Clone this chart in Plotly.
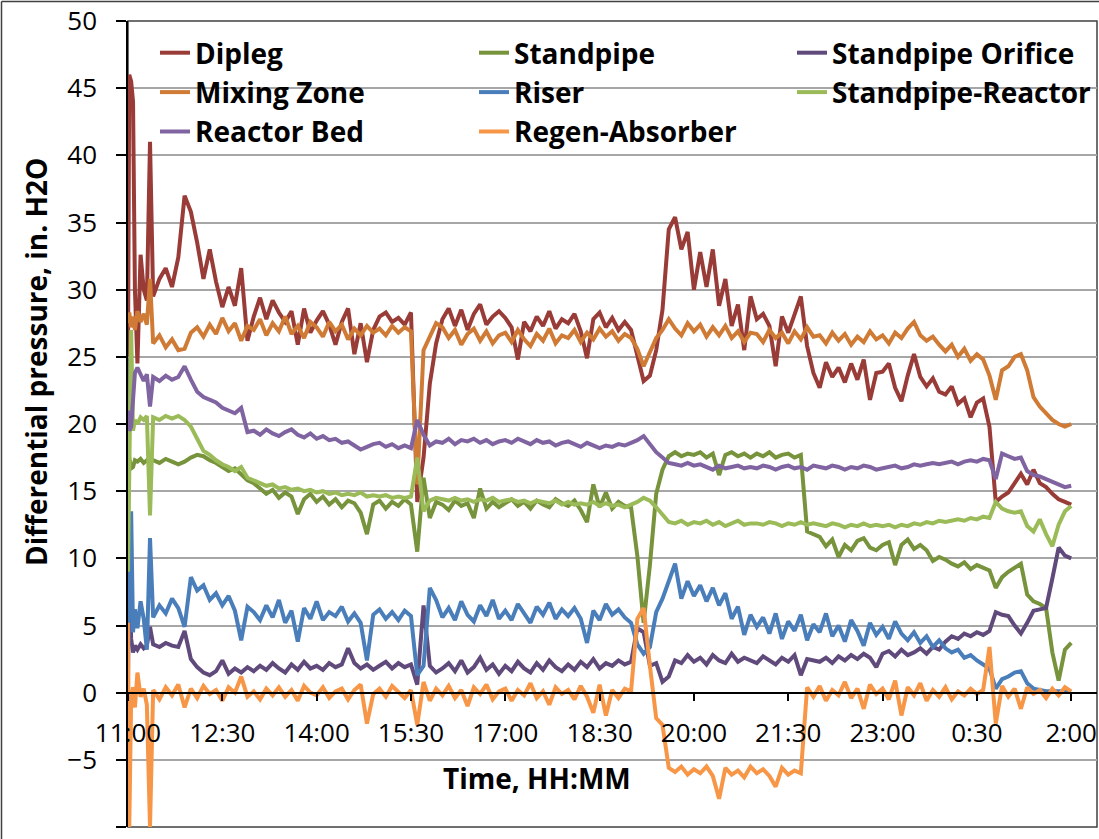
import plotly.graph_objects as go

# time axis: hours after 11:00 (denser at the very start, then every 6 minutes)
hours = [0, 0.02, 0.05, 0.08, 0.11, 0.15, 0.2, 0.25, 0.3, 0.35] + [round(0.4 + 0.1 * k, 2) for k in range(147)]

tick_vals = [0, 1.5, 3, 4.5, 6, 7.5, 9, 10.5, 12, 13.5, 15]
tick_text = ["11:00", "12:30", "14:00", "15:30", "17:00", "18:30", "20:00", "21:30", "23:00", "0:30", "2:00"]

dipleg = [25.0, 46.0, 45.5, 44.0, 30.0, 24.5, 32.6, 30.0, 29.2, 41.0,
          29.5, 30.8, 31.6, 30.2, 32.4, 37.0,
          35.8, 33.5, 30.8, 33.0, 30.6, 28.7, 30.2, 28.8, 31.6, 26.2,
          28.0, 29.4, 27.8, 29.2, 28.3, 27.6, 28.4, 25.9, 28.6, 26.8,
          27.7, 28.4, 27.4, 25.9, 27.6, 28.6, 25.2, 27.5, 24.6, 27.0,
          28.0, 28.3, 27.6, 27.9, 27.4, 28.3, 14.2, 17.5, 23.0, 26.0,
          27.8, 28.6, 27.3, 28.5, 27.0, 28.2, 28.9, 27.4, 28.0, 28.4,
          27.9, 27.2, 24.8, 27.6, 26.9, 28.0, 27.3, 28.4, 27.1, 27.8,
          27.5, 28.2, 26.9, 24.9, 27.8, 28.3, 27.2, 27.9, 27.0, 27.6,
          27.0, 25.0, 23.2, 23.6, 25.5, 28.5, 34.5, 35.4, 33.0, 34.3,
          30.0, 32.8, 30.2, 33.0, 28.8, 30.8, 27.3, 28.9, 25.5, 29.5,
          27.8, 28.2, 27.3, 24.3, 28.0, 26.8, 28.2, 29.5, 25.8, 23.8,
          22.7, 24.6, 23.5, 24.2, 23.1, 24.5, 23.3, 24.8, 21.8, 23.8,
          23.9, 24.5, 22.7, 21.7, 23.6, 25.2, 23.5, 22.8, 23.4, 22.4,
          22.2, 22.8, 21.5, 21.9, 20.5, 21.6, 21.9, 19.8, 14.2, 14.6,
          14.9, 15.6, 16.3, 15.5, 16.6, 15.6, 15.3, 14.8, 14.4, 14.2,
          14.0]

standpipe = [18.0, 17.5, 16.7, 16.8, 17.3, 17.2, 17.4, 17.1, 17.3, 17.2,
             17.3, 17.1, 17.4, 17.2, 17.0, 17.2,
             17.5, 17.7, 17.6, 17.3, 17.1, 16.8, 16.5, 16.7, 16.2, 15.8,
             15.6, 15.2, 14.8, 15.1, 14.5, 14.9, 14.6, 13.3, 14.4, 14.8,
             14.2, 14.6, 14.0, 14.4, 13.8, 14.3, 14.1, 13.4, 11.8, 14.0,
             14.3, 13.7, 14.2, 13.9, 14.4, 14.0, 10.5, 16.0, 13.0, 14.2,
             14.0, 13.6, 14.3, 13.9, 14.1, 13.0, 15.2, 13.7, 14.2, 13.8,
             14.1, 14.4, 13.9, 14.2, 13.7, 14.3, 14.0, 13.8, 14.4, 14.1,
             13.9, 14.3, 13.6, 12.7, 15.5, 13.8, 14.9, 13.7, 14.2, 13.9,
             13.8, 10.2, 5.2, 9.5, 14.8, 16.6, 17.6, 17.9, 17.6, 17.8,
             17.7, 17.9, 17.5, 17.8, 16.2, 17.7, 17.9, 17.6, 17.8, 17.5,
             17.8, 17.6, 17.9, 17.5, 17.7, 17.8, 17.5, 17.7, 12.0, 11.8,
             11.6, 10.9, 11.4, 10.1, 11.0, 10.6, 11.3, 11.5, 10.8, 10.6,
             11.0, 11.2, 9.5, 11.0, 11.4, 10.7, 11.0, 10.6, 9.8, 10.1,
             9.9, 9.6, 9.4, 9.7, 9.2, 9.5, 9.3, 9.1, 7.8, 8.6,
             9.0, 9.3, 9.6, 7.3, 6.8, 6.6, 6.3, 3.0, 0.9, 3.2,
             3.7]

standpipe_orifice = [8.2, 9.0, 4.0, 3.0, 3.5, 3.2, 3.6, 3.3, 3.5, 4.9,
                     3.6, 3.4, 3.7, 3.5, 3.4, 4.6,
                     2.5, 1.9, 1.5, 1.3, 1.6, 2.4, 1.4, 1.8, 1.5, 1.9,
                     1.6, 2.0, 1.7, 2.2, 1.8, 1.5, 2.1, 1.7, 2.3, 1.8,
                     2.0, 1.7, 2.2, 1.9, 2.1, 3.3, 2.2, 1.8, 2.1, 1.7,
                     2.0, 2.3, 1.8, 2.2, 1.9, 2.1, 0.6, 6.5, 2.0, 1.5,
                     1.8, 2.2, 1.6, 2.4, 1.5, 1.9, 2.6, 1.7, 2.1, 1.4,
                     2.0, 1.6, 2.3, 1.8, 1.5, 2.2, 1.7, 2.4, 1.9, 1.6,
                     2.1, 1.7, 2.3, 1.9, 2.5, 1.8, 2.2, 2.0, 2.4, 2.1,
                     2.3, 4.8, 4.5, 2.0, 2.2, 0.8, 1.2, 2.4, 2.2, 2.8,
                     2.3, 2.6, 2.1, 2.8, 2.4, 2.2, 2.9, 2.3, 2.6, 2.4,
                     2.2, 2.7, 2.4, 2.1, 2.6, 2.3, 2.8, 1.3, 2.5, 2.4,
                     2.3, 2.6, 2.2, 2.7, 2.4, 2.8, 2.5, 2.9, 2.6, 1.9,
                     2.9, 3.1, 2.7, 3.2, 2.8, 3.0, 3.3, 2.9, 3.4, 3.2,
                     3.8, 4.2, 4.0, 4.4, 4.2, 4.5, 4.3, 4.6, 6.0, 5.8,
                     5.7, 5.0, 4.4, 5.2, 6.1, 6.2, 6.3, 8.5, 10.8, 10.2,
                     10.0]

mixing_zone = [27.5, 28.3, 27.2, 28.0, 27.0, 28.4, 27.6, 28.2, 27.4, 30.8,
               26.0, 26.6, 25.7, 26.3, 25.5, 25.6,
               26.8, 27.2, 26.5, 27.4, 26.7, 27.9, 26.9, 27.5, 26.2, 27.3,
               27.0, 27.8, 26.6, 27.5, 26.9, 28.0, 26.7, 27.3, 26.4, 27.6,
               27.2, 26.5, 27.6, 26.9, 27.4, 26.3, 27.1, 26.6, 27.3, 26.8,
               27.1, 26.6, 27.3, 26.8, 27.2, 26.9, 15.5, 25.5, 26.5, 27.5,
               27.2, 26.4, 27.0, 25.9, 26.7, 27.1, 26.2, 26.9, 26.0, 26.6,
               26.8, 26.1, 27.0, 26.3, 25.8, 26.7, 26.2, 27.1, 26.0, 26.6,
               26.4, 27.0, 26.1, 26.8, 26.3, 27.1, 26.5, 26.9, 26.2, 26.7,
               26.4, 25.6, 24.3, 25.4, 26.4, 27.0, 27.8, 27.1, 26.6, 27.5,
               26.9, 27.4, 26.5, 27.2, 26.6, 27.3, 26.4, 26.9, 26.1, 26.8,
               26.7, 26.1, 27.0, 26.4, 26.8, 26.0, 26.9, 26.3, 27.2, 26.5,
               26.6, 26.0, 26.8, 26.2, 26.7, 25.9, 26.5, 26.1, 26.9, 26.3,
               26.6, 26.0, 26.8, 26.4, 27.1, 27.6, 26.6, 26.2, 26.5, 25.9,
               25.4, 25.9, 25.0, 25.6, 24.7, 25.2, 24.8, 23.6, 21.8, 24.0,
               24.3, 25.0, 25.2, 24.0, 22.0, 21.3, 20.8, 20.3, 20.0, 19.8,
               20.0]

riser = [1.0, 8.5, 13.5, 4.5, 6.2, 4.8, 6.8, 5.5, 3.2, 11.5,
         5.6, 6.5, 5.9, 7.0, 6.3, 4.9,
         8.6, 7.6, 8.0, 6.9, 7.4, 6.5, 7.2, 6.1, 3.9, 6.4,
         6.0, 5.4, 6.5, 5.6, 6.9, 5.2, 6.1, 3.8, 6.3, 5.5,
         6.8, 5.4, 6.0, 5.7, 6.4, 5.3, 5.9, 5.2, 2.4, 5.8,
         6.2, 5.5, 6.0, 5.4, 6.1, 5.7, 1.3, 2.0, 7.8, 6.9,
         5.6, 6.3, 5.4, 6.8, 5.8, 5.3, 6.5, 5.7, 6.9, 5.5,
         6.1, 5.4, 6.6, 5.9, 5.2, 6.4, 5.8, 6.7, 5.5, 6.2,
         5.7, 6.3, 5.5, 3.7, 6.1, 5.4, 6.6, 5.8, 6.2, 5.6,
         5.2, 3.6, 2.9, 3.4, 6.0, 7.0, 8.4, 9.6, 7.0, 8.3,
         7.2, 8.0, 6.8, 7.8, 6.5, 7.4, 5.5, 6.4, 4.3, 5.8,
         4.9, 5.6, 4.4, 5.9, 4.0, 5.3, 4.6, 5.8, 3.9, 5.1,
         4.5, 5.9, 4.2, 5.0, 3.8, 5.4, 4.6, 3.5, 5.2, 4.3,
         4.9, 4.0, 5.3, 4.4, 3.9, 4.5, 3.7, 4.2, 3.4, 3.9,
         3.3, 3.0, 3.2, 2.6, 2.8, 2.4, 2.1, 1.8, 0.3, 1.0,
         1.2, 1.5, 1.6, 0.7, 0.3, 0.2, 0.1, 0.1, 0.1, 0.1,
         0.1]

standpipe_reactor = [9.0, 18.0, 27.0, 19.5, 20.3, 20.0, 20.5, 20.3, 20.6, 13.2,
                     20.5, 20.3, 20.6, 20.4, 20.6, 20.3,
                     19.8, 18.9, 18.0, 17.7, 17.3, 17.0, 16.8, 16.5, 16.8, 16.0,
                     15.8, 15.6, 15.4, 15.5, 15.2, 15.3, 15.1, 15.2, 15.0, 15.1,
                     14.9, 15.0, 14.8, 14.9, 14.7, 14.8, 14.7, 14.9, 14.6, 14.7,
                     14.6, 14.7, 14.5, 14.6, 14.5, 14.6, 17.5, 13.5, 14.3, 14.5,
                     14.4, 14.3, 14.5, 14.3, 14.4, 14.2, 14.4, 14.3, 14.5, 14.2,
                     14.3, 14.4, 14.2, 14.3, 14.1, 14.3, 14.2, 14.1, 14.3, 14.0,
                     14.2, 14.0, 14.1, 14.0, 14.2, 13.9, 14.1, 13.9, 14.0, 13.8,
                     14.0, 14.2, 14.5, 14.3, 13.8, 13.3, 12.7, 12.6, 12.8, 12.5,
                     12.7, 12.6, 12.8, 12.5, 12.7, 12.4, 12.6, 12.8, 12.5, 12.6,
                     12.6, 12.5, 12.7, 12.6, 12.4, 12.6, 12.5, 12.7, 12.5, 12.6,
                     12.5, 12.4, 12.6, 12.5, 12.3, 12.5, 12.4, 12.6, 12.4, 12.5,
                     12.4, 12.5, 12.3, 12.5, 12.4, 12.6, 12.5, 12.7, 12.6, 12.8,
                     12.7, 12.8, 12.9, 12.8, 13.0, 12.9, 13.1, 13.0, 14.2, 13.7,
                     13.5, 13.4, 13.5, 12.4, 12.0, 12.9, 11.8, 10.9, 12.5, 13.5,
                     13.9]

reactor_bed = [21.0, 19.5, 19.8, 21.5, 23.8, 24.2, 23.6, 23.2, 23.7, 21.3,
               23.5, 23.2, 23.6, 23.3, 23.5, 24.3,
               23.3, 22.4, 22.0, 21.8, 21.6, 21.2, 21.0, 20.8, 21.2, 19.4,
               19.5, 19.2, 19.6, 19.3, 19.1, 19.4, 19.6, 19.2, 19.0, 19.3,
               18.9, 19.1, 18.8, 18.9, 18.6, 18.7, 18.4, 18.1, 18.3, 18.5,
               18.6, 18.3, 18.5, 18.2, 18.4, 18.2, 20.3, 19.2, 18.4, 18.7,
               18.6, 18.9, 18.5, 18.8, 18.7, 18.9, 18.6, 18.8, 18.5, 18.7,
               18.8, 18.6, 18.9, 18.7, 18.5, 18.8, 18.6, 18.7, 18.4, 18.6,
               18.7, 18.5, 18.3, 18.6, 18.4, 18.2, 18.4, 18.3, 18.5, 18.4,
               18.6, 18.8, 19.1, 18.5, 17.9, 17.5, 17.1, 17.0, 16.9, 17.1,
               16.9, 17.0, 16.8, 16.6, 16.9, 16.7, 16.8, 16.9, 16.7, 16.8,
               16.7, 16.9, 16.8, 16.6, 16.8, 16.9, 16.7, 16.8, 16.6, 16.9,
               16.8, 16.7, 16.9, 16.8, 16.6, 16.8, 16.7, 16.9, 16.8, 16.6,
               16.7, 16.8, 16.9, 16.7, 16.8, 17.0, 16.9, 17.0, 17.1, 17.0,
               17.1, 17.2, 17.0, 17.2, 17.3, 17.2, 17.4, 17.3, 15.9, 17.8,
               17.6, 17.4, 17.5, 16.5, 16.2, 16.1, 15.9, 15.7, 15.5, 15.3,
               15.4]

regen_absorber = [5.2, -10.0, -0.6, 0.4, -1.1, 1.5, -0.3, 0.3, -0.9, -10.0,
                  0.2, -0.5, 0.4, -0.2, 0.6, -1.1,
                  0.3, -0.4, 0.5, -0.1, 0.2, -0.6, 0.4, 0.0, 1.2, -0.3,
                  0.1, -0.5, 0.3, -0.2, 0.4, -0.3, 0.2, -0.6, 0.5, 0.0,
                  -0.2, 0.4, -0.4, 0.1, 0.3, -0.5, 0.2, 0.6, -2.3, -0.1,
                  0.3, -0.3, 0.5, 0.0, -0.4, 0.2, -2.4, 0.8, -0.6, 0.3,
                  -0.2, 0.5, -0.4, 0.2, -1.0, 0.4, -0.1, 0.6, -0.5, 0.1,
                  0.3, -0.6, 0.2, -0.2, 0.7, -0.4, 0.1, -0.9, 0.4, -0.1,
                  0.2, -0.5, 0.5, -0.3, -1.5, 0.6, -1.7, 0.2, -0.4, 0.3,
                  0.1, 5.5, 6.3, 2.0, -1.9, -2.4, -5.6, -5.9, -5.5, -6.1,
                  -5.7, -6.0, -5.5, -6.2, -7.9, -5.6, -6.1, -5.8, -6.3, -5.5,
                  -6.0, -5.7, -6.2, -7.0, -5.6, -6.1, -5.8, -6.0, 0.4, -0.3,
                  0.5, -0.6, 0.2, -0.2, 0.8, -0.4, 0.3, -1.2, 0.6, -0.1,
                  0.3, -0.5, 0.9, -1.7, 0.4, -0.2, 0.7, -0.6, 0.2, -0.3,
                  0.4, -0.5, 0.1, -0.2, 0.3, -0.1, 0.2, 3.4, -2.3, 0.5,
                  -0.3, 0.3, -1.2, 0.4, -0.1, 0.2, -0.4, 0.3, -0.2, 0.4,
                  0.1]

# (name, values, colour, legend column)
series = [
    ("Dipleg", dipleg, "#993B37", "legend"),
    ("Standpipe", standpipe, "#77933C", "legend2"),
    ("Standpipe Orifice", standpipe_orifice, "#604A7B", "legend3"),
    ("Mixing Zone", mixing_zone, "#D07B35", "legend"),
    ("Riser", riser, "#4A7EBB", "legend2"),
    ("Standpipe-Reactor", standpipe_reactor, "#9BBB59", "legend3"),
    ("Reactor Bed", reactor_bed, "#8064A2", "legend"),
    ("Regen-Absorber", regen_absorber, "#F79646", "legend2"),
]

W, H = 1099, 839
ML, MR, MT, MB = 128, 2, 21, 12
PW, PH = W - ML - MR, H - MT - MB


def px_x(px):
    return (px - ML) / PW


def px_y(py):
    return (H - MB - py) / PH


fig = go.Figure()
for name, vals, color, leg in series:
    assert len(vals) == len(hours), name
    fig.add_trace(go.Scatter(x=hours, y=vals, name=name, mode="lines", legend=leg,
                             line=dict(color=color, width=4)))

font_main = "'Open Sans', Lato, sans-serif"
legend_font = dict(family=font_main, size=28, color="black", weight="bold")


def legend_at(px_left):
    return dict(orientation="v", x=px_x(px_left), y=px_y(28), xanchor="left", yanchor="top",
                bgcolor="rgba(0,0,0,0)", borderwidth=0, font=legend_font,
                traceorder="normal")


fig.update_layout(
    width=W, height=H,
    margin=dict(l=ML, r=MR, t=MT, b=MB),
    paper_bgcolor="white", plot_bgcolor="white",
    showlegend=True,
    legend=legend_at(155),
    legend2=legend_at(474),
    legend3=legend_at(792),
    xaxis=dict(range=[0, 15.41], tickvals=tick_vals, ticktext=tick_text,
               anchor="free", position=10 / 60, showgrid=False, zeroline=False,
               showline=True, linecolor="black", linewidth=1.5,
               ticks="outside", ticklen=8, tickwidth=1.5, tickcolor="black",
               ticklabelstandoff=9,
               tickfont=dict(family=font_main, size=26, color="black")),
    yaxis=dict(range=[-10, 50], dtick=5, tick0=0, showgrid=True,
               gridcolor="#A6A6A6", gridwidth=1.5, zeroline=False,
               showline=True, linecolor="black", linewidth=1.5,
               ticks="outside", ticklen=10, tickwidth=1.5, tickcolor="black",
               ticklabelstandoff=14,
               tickfont=dict(family=font_main, size=26, color="black")),
    shapes=[
        dict(type="rect", xref="paper", yref="paper", x0=0, x1=1, y0=0, y1=1,
             line=dict(color="#404040", width=1.5), layer="below"),
        dict(type="line", xref="paper", yref="paper", x0=px_x(1.5), x1=px_x(1099),
             y0=px_y(1.5), y1=px_y(1.5), line=dict(color="#404040", width=1.5)),
        dict(type="line", xref="paper", yref="paper", x0=px_x(1.5), x1=px_x(1.5),
             y0=px_y(1.5), y1=px_y(839), line=dict(color="#404040", width=1.5)),
    ],
    annotations=[
        dict(text="<b>Time, HH:MM</b>", xref="paper", yref="paper",
             x=px_x(537), y=px_y(778), xanchor="center", yanchor="middle",
             showarrow=False, font=dict(family=font_main, size=28, color="black")),
        dict(text="<b>Differential pressure, in. H2O</b>", xref="paper", yref="paper",
             x=px_x(36), y=px_y(362), xanchor="center", yanchor="middle", textangle=-90,
             showarrow=False, font=dict(family=font_main, size=28, color="black")),
    ],
)

fig.write_html("out.html")
